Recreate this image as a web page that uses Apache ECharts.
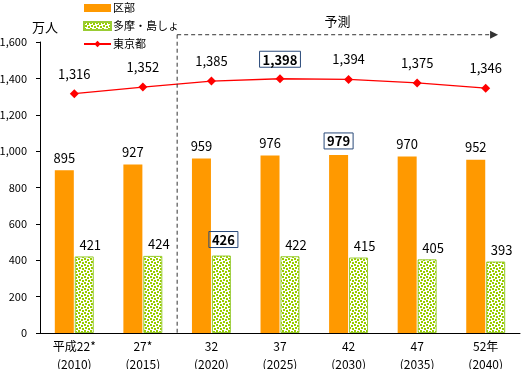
<!DOCTYPE html>
<html><head><meta charset="utf-8">
<script src="https://cdn.jsdelivr.net/npm/echarts@6/dist/echarts.min.js"></script>
<style>html,body{margin:0;padding:0;background:#fff}#c{width:525px;height:369px}</style>
</head><body><div id="c"></div>
<script>
const categories = ['平成22*\n(2010)', '27*\n(2015)', '32\n(2020)', '37\n(2025)', '42\n(2030)', '47\n(2035)', '52年\n(2040)'];
const kubu = [895, 927, 959, 976, 979, 970, 952];
const tamaShima = [421, 424, 426, 422, 415, 405, 393];
const tokyo = [1316, 1352, 1385, 1398, 1394, 1375, 1346];
const kubuPeak = 4, tamaPeak = 2, tokyoPeak = 3;
const yTicks = { min: 0, max: 1600, interval: 200 };
const forecastStart = 2;

const FONT = '"Noto Sans CJK JP", sans-serif';

function makePattern() {
  const c = document.createElement('canvas');
  c.width = 6; c.height = 6;
  const g = c.getContext('2d');
  g.fillStyle = '#ffffff'; g.fillRect(0, 0, 6, 6);
  g.fillStyle = '#99cc00';
  g.fillRect(0, 0, 2, 2);
  g.fillRect(3, 1, 2, 2);
  g.fillRect(1, 3, 2, 2);
  g.fillRect(4, 4, 2, 2);
  return c;
}
const pat = { image: makePattern(), repeat: 'repeat' };

const boxLabel = { fontWeight: 'bold', borderColor: '#2a4a7a', borderWidth: 1, padding: [2, 3, 1, 3], color: '#000' };

const chart = echarts.init(document.getElementById('c'), null, { renderer: 'canvas' });
chart.setOption({
  animation: false,
  textStyle: { fontFamily: FONT },
  legend: {
    orient: 'vertical', left: 78, top: -3, itemWidth: 27, itemHeight: 8, itemGap: 6,
    textStyle: { fontSize: 11, lineHeight: 12, fontFamily: FONT, color: '#000', padding: [0, 0, 0, -3] },
    data: [
      { name: '区部', icon: 'rect' },
      { name: '多摩・島しょ', icon: 'rect' },
      { name: '東京都' }
    ]
  },
  grid: { left: 40, right: 5, top: 42, bottom: 36, outerBoundsMode: 'none', containLabel: false },
  xAxis: {
    type: 'category', data: categories,
    axisLine: { lineStyle: { color: '#000', width: 1 } },
    axisTick: { show: false },
    axisLabel: { color: '#000', fontSize: 12, lineHeight: 18, margin: 4, fontFamily: FONT }
  },
  yAxis: {
    type: 'value', min: yTicks.min, max: yTicks.max, interval: yTicks.interval,
    name: '万人', nameLocation: 'end', nameGap: 8,
    nameTextStyle: { color: '#000', fontSize: 13, align: 'center', padding: [0, 0, 0, 10], fontFamily: FONT },
    axisLine: { show: true, lineStyle: { color: '#000', width: 1 } },
    axisTick: { show: true, length: 4, lineStyle: { color: '#000' } },
    splitLine: { show: false },
    axisLabel: {
      color: '#000', fontSize: 11, margin: 13, fontFamily: FONT,
      formatter: v => v.toLocaleString('en-US')
    }
  },
  series: [
    {
      name: '区部', type: 'bar', barWidth: 19, barGap: '5%',
      itemStyle: { color: '#ff9900' },
      label: { show: true, position: 'top', distance: 6, color: '#000', fontSize: 13, fontFamily: FONT },
      data: kubu.map((v, i) => i === kubuPeak ? { value: v, label: boxLabel } : v)
    },
    {
      name: '多摩・島しょ', type: 'bar', barWidth: 19,
      itemStyle: { color: pat, borderColor: '#99cc33', borderWidth: 1 },
      label: { show: true, position: 'top', distance: 5, offset: [6, 0], color: '#000', fontSize: 13, fontFamily: FONT },
      data: tamaShima.map((v, i) => i === tamaPeak ? { value: v, label: Object.assign({}, boxLabel, { offset: [2, -3] }) } : v)
    },
    {
      name: '東京都', type: 'line',
      lineStyle: { color: '#ff0000', width: 1.3 },
      itemStyle: { color: '#ff0000' },
      symbol: 'diamond', symbolSize: 9,
      label: { show: true, position: 'top', distance: 9, color: '#000', fontSize: 13, fontFamily: FONT,
        formatter: p => p.value.toLocaleString('en-US') },
      data: tokyo.map((v, i) => i === tokyoPeak ? { value: v, label: Object.assign({}, boxLabel, { distance: 7 }) } : v)
    }
  ]
});

// forecast annotation, positioned from the chart's own scales
const xStart = (chart.convertToPixel({ xAxisIndex: 0 }, forecastStart - 1) + chart.convertToPixel({ xAxisIndex: 0 }, forecastStart)) / 2;
const lastX = chart.convertToPixel({ xAxisIndex: 0 }, categories.length - 1);
const step = chart.convertToPixel({ xAxisIndex: 0 }, 1) - chart.convertToPixel({ xAxisIndex: 0 }, 0);
const xEnd = lastX + step * 0.18;
const yTop = chart.convertToPixel({ yAxisIndex: 0 }, 1640);
const yBase = chart.convertToPixel({ yAxisIndex: 0 }, 0);
chart.setOption({
  graphic: [
    { type: 'line', shape: { x1: xStart, y1: yTop, x2: xStart, y2: yBase },
      style: { stroke: '#333', lineWidth: 1, lineDash: [4, 3] }, z: 5 },
    { type: 'line', shape: { x1: xStart, y1: yTop, x2: xEnd - 8, y2: yTop },
      style: { stroke: '#333', lineWidth: 1, lineDash: [4, 3] }, z: 5 },
    { type: 'polygon', shape: { points: [[xEnd - 8, yTop - 4], [xEnd, yTop], [xEnd - 8, yTop + 4]] },
      style: { fill: '#333' }, z: 5 },
    { type: 'text', x: (xStart + xEnd) / 2, y: yTop - 14,
      style: { text: '予測', font: '13px ' + FONT, fill: '#000', textAlign: 'center', textVerticalAlign: 'middle' }, z: 5 }
  ]
});
</script></body></html>
